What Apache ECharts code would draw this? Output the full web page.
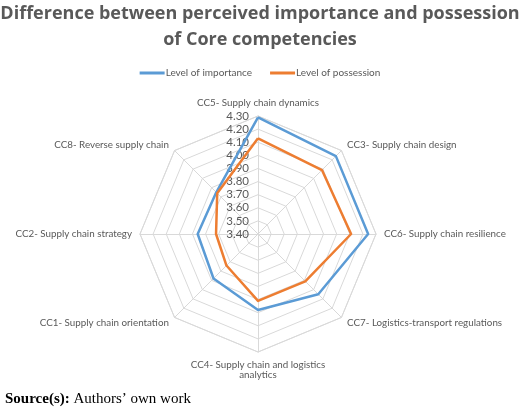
<!DOCTYPE html>
<html lang="en">
<head>
    <meta charset="UTF-8">
    <title>Core competencies</title>
    <style>
        html, body { margin: 0; padding: 0; background: #fff; }
        #main { width: 520px; height: 408px; }
    </style>
    <script src="https://cdn.jsdelivr.net/npm/echarts@6/dist/echarts.min.js"></script>
</head>
<body>
<div id="main"></div>
<script>
    // indicators listed counter-clockwise from the top, as the radar draws them
    var competencies = [
        'CC5- Supply chain dynamics',
        'CC8- Reverse supply chain',
        'CC2- Supply chain strategy',
        'CC1- Supply chain orientation',
        'CC4- Supply chain and logistics\nanalytics',
        'CC7- Logistics-transport regulations',
        'CC6- Supply chain resilience',
        'CC3- Supply chain design'
    ];
    var importance = [4.29, 3.85, 3.86, 3.88, 3.98, 4.05, 4.24, 4.24];
    var possession = [4.13, 3.84, 3.72, 3.74, 3.91, 3.91, 4.11, 4.09];
    var scaleMin = 3.4;
    var scaleMax = 4.3;

    var chart = echarts.init(document.getElementById('main'));

    var indicators = competencies.map(function (name, i) {
        var ind = { name: name, min: scaleMin, max: scaleMax };
        if (i === 0) {
            // only the vertical axis carries the value labels
            ind.axisLabel = { show: true };
        }
        return ind;
    });

    var option = {
        animation: false,
        color: ['#5B9BD5', '#ED7D31'],
        title: [{
            text: 'Difference between perceived importance and possession\nof Core competencies',
            left: 'center',
            top: -4,
            textStyle: {
                fontFamily: 'Open Sans',
                fontSize: 18,
                fontWeight: 'bold',
                color: '#595959',
                lineHeight: 26
            }
        }, {
            text: '{b|Source(s):} Authors\u2019 own work',
            left: 0,
            top: 387,
            textStyle: {
                fontFamily: 'Liberation Serif',
                fontSize: 15,
                fontWeight: 'normal',
                color: '#000',
                rich: {
                    b: { fontFamily: 'Liberation Serif', fontSize: 15, fontWeight: 'bold', color: '#000' }
                }
            }
        }],
        legend: {
            top: 63,
            left: 'center',
            icon: 'rect',
            itemWidth: 25,
            itemHeight: 3,
            itemGap: 18,
            textStyle: { fontFamily: 'Lato', fontSize: 10, color: '#595959', padding: [0, 0, 0, -4] },
            data: ['Level of importance', 'Level of possession']
        },
        radar: {
            center: [258, 234],
            radius: 118,
            startAngle: 90,
            splitNumber: 9,
            shape: 'polygon',
            indicator: indicators,
            axisName: {
                color: '#595959',
                fontFamily: 'Lato',
                fontSize: 9.8
            },
            nameGap: 8,
            axisLine: { lineStyle: { color: '#d9d9d9', width: 1 } },
            splitLine: { lineStyle: { color: '#d9d9d9', width: 1 } },
            splitArea: { show: false },
            axisTick: { show: false },
            axisLabel: {
                show: false,
                color: '#595959',
                fontFamily: 'Lato',
                fontSize: 11.5,
                margin: 9,
                formatter: function (v) { return Number(v).toFixed(2); }
            }
        },
        series: [{
            type: 'radar',
            symbol: 'none',
            lineStyle: { width: 2.5 },
            data: [
                { name: 'Level of importance', value: importance },
                { name: 'Level of possession', value: possession }
            ]
        }]
    };

    chart.setOption(option);
</script>
</body>
</html>
